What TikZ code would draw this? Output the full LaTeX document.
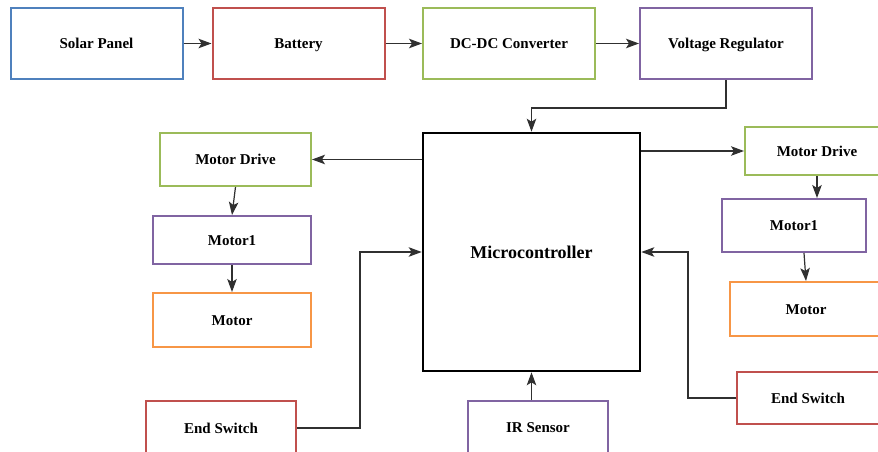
\documentclass[tikz,border=0pt]{standalone}
\usepackage{fontspec}
\setmainfont{Liberation Serif}
\usepackage{xcolor}
\usepackage{tikz}
\usetikzlibrary{arrows.meta,positioning}
\definecolor{cBlue}{HTML}{4F81BD}
\definecolor{cRed}{HTML}{C0504D}
\definecolor{cGreen}{HTML}{9BBB59}
\definecolor{cPurple}{HTML}{8064A2}
\definecolor{cOrange}{HTML}{F79646}
\definecolor{cWire}{HTML}{303030}
\tikzset{
  arrow/.style={-{Stealth[length=13pt,width=9.5pt,inset=3pt]}, line width=1.2pt, draw=cWire},
  block/.style={draw, line width=2pt, fill=white, inner sep=0pt, minimum width=172pt, minimum height=71pt,
                text height=10pt, text depth=0pt, font=\fontsize{15}{17}\selectfont\bfseries},
  small/.style={block, minimum height=52pt},
  mcu/.style  ={draw=black, line width=2.6pt, inner sep=0pt, minimum width=217pt, minimum height=238pt,
                text height=12pt, text depth=0pt, font=\fontsize{18}{20}\selectfont\bfseries},
}

\begin{document}
\begin{tikzpicture}[x=1pt,y=-1pt]
        \useasboundingbox (0,0) rectangle (878,452);
        \clip (0,0) rectangle (878,452);
        % supply chain
        \node[block,draw=cBlue] (sp) at (96.5,43.5){Solar Panel};
        \node[block,draw=cRed] (bat) at (298.5,43.5){Battery};
        \node[block,draw=cGreen] (dc) at (509,43.5){DC-DC Converter};
        \node[block,draw=cPurple] (vr) at (726,43.5){Voltage Regulator};
        \node[mcu] (mc) at (531.5,252){Microcontroller};
        % left motor
        \node[small,draw=cGreen,minimum width=151pt,minimum height=53pt] (md1) at (235.5,159.5){Motor Drive};
        \node[small,draw=cPurple,minimum width=158pt,minimum height=48pt] (m1) at (232,240){Motor1};
        \node[small,draw=cOrange,minimum width=158pt,minimum height=54pt] (mot1) at (232,320){Motor};
        % right motor
        \node[small,draw=cGreen,minimum width=144pt,minimum height=48pt] (md2) at (817,151){Motor Drive};
        \node[small,draw=cPurple,minimum width=144pt,minimum height=53pt] (m2) at (794,225.5){Motor1};
        \node[small,draw=cOrange,minimum width=152pt,minimum height=54pt] (mot2) at (806,309){Motor};
        % inputs
        \node[small,draw=cRed,minimum width=150pt,minimum height=54pt] (es1) at (221,428){End Switch};
        \node[small,draw=cPurple,minimum width=140pt] (ir) at (538,427){IR Sensor};
        \node[small,draw=cRed,minimum width=142pt] (es2) at (808,398){End Switch};
        \draw[arrow](sp)--(bat); \draw[arrow](bat)--(dc); \draw[arrow](dc)--(vr);
        \draw[arrow](vr.south)--++(0,28)-|(mc.north);
        \draw[arrow](mc.west|-md1)--(md1.east);
        \draw[arrow](mc.east|-md2)--(md2.west);
        \draw[arrow](md1.south)--(m1.north); \draw[arrow](m1)--(mot1);
        \draw[arrow](md2.south)--(md2.south|-m2.north);
        \draw[arrow]([xshift=10pt]m2.south)--(mot2.north);
        \draw[arrow](es1.east)--++(63,0)|-(mc.west);
        \draw[arrow](es2.west)--++(-48,0)|-(mc.east);
        \draw[arrow](mc.south|-ir.north)--(mc.south);
      \end{tikzpicture}
\end{document}
